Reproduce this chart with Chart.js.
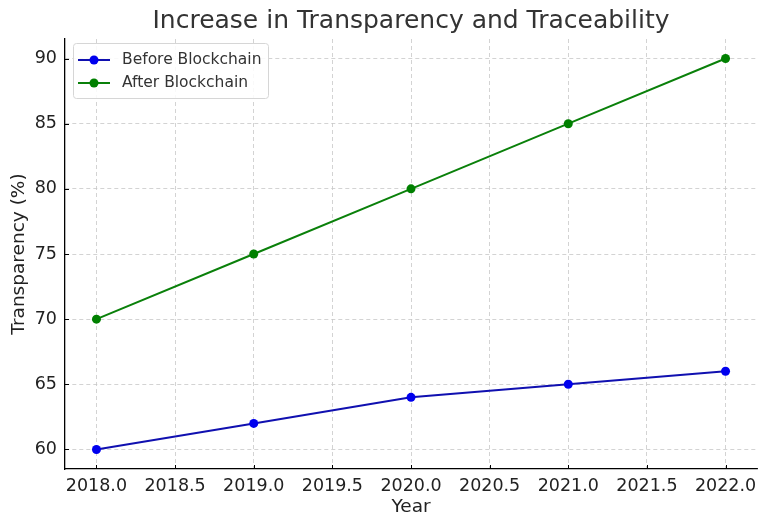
<!DOCTYPE html>
<html>
<head>
<meta charset="utf-8">
<script src="https://cdn.jsdelivr.net/npm/chart.js@4/dist/chart.umd.min.js"></script>
<style>
  html, body { margin: 0; padding: 0; background: #fff; }
  #wrap { width: 769px; height: 529px; }
</style>
</head>
<body>
<div id="wrap"><canvas id="transparencyChart" width="769" height="529"></canvas></div>
<script>
// datos del gráfico
const years = [2018, 2019, 2020, 2021, 2022];
const beforeBlockchain = [60, 62, 64, 65, 66];
const afterBlockchain = [70, 75, 80, 85, 90];
const xTicks = [2018.0, 2018.5, 2019.0, 2019.5, 2020.0, 2020.5, 2021.0, 2021.5, 2022.0];
const yTicks = [60, 65, 70, 75, 80, 85, 90];

const FONT = "'DejaVu Sans', sans-serif";

// título, ejes, leyenda y marcas internas
const extrasPlugin = {
    id: 'extras',
    afterDraw(chart) {
        const c = chart.ctx;
        const area = chart.chartArea;
        const xs = chart.scales.x, ys = chart.scales.y;
        c.save();
        // marcas de eje hacia dentro
        c.strokeStyle = '#000';
        c.lineWidth = 1;
        xTicks.forEach(v => {
            const px = Math.round(xs.getPixelForValue(v)) + 0.5;
            c.beginPath(); c.moveTo(px, area.bottom); c.lineTo(px, area.bottom - 4); c.stroke();
        });
        yTicks.forEach(v => {
            const py = Math.round(ys.getPixelForValue(v)) + 0.5;
            c.beginPath(); c.moveTo(area.left, py); c.lineTo(area.left + 4, py); c.stroke();
        });
        // título
        c.fillStyle = '#333';
        c.font = '25px ' + FONT;
        c.textAlign = 'center';
        c.textBaseline = 'middle';
        c.fillText('Increase in Transparency and Traceability', (area.left + area.right) / 2, 21);
        // títulos de ejes
        c.fillStyle = '#222';
        c.font = '18.5px ' + FONT;
        c.fillText('Year', (area.left + area.right) / 2, 507);
        c.translate(19, (area.top + area.bottom) / 2);
        c.rotate(-Math.PI / 2);
        c.fillText('Transparency (%)', 0, 0);
        c.restore();

        // leyenda
        c.save();
        const lx = 73, ly = 43, lw = 195, lh = 55;
        c.fillStyle = 'rgba(255,255,255,0.85)';
        c.strokeStyle = '#d6d6d6';
        c.lineWidth = 1;
        c.beginPath();
        c.roundRect(lx + 0.5, ly + 0.5, lw, lh, 3);
        c.fill(); c.stroke();
        const items = [
            { label: 'Before Blockchain', line: '#1010b0', point: '#0000ee', y: 60 },
            { label: 'After Blockchain', line: '#0a800a', point: '#008000', y: 83 }
        ];
        items.forEach(it => {
            c.strokeStyle = it.line;
            c.lineWidth = 2;
            c.beginPath(); c.moveTo(78, it.y); c.lineTo(110, it.y); c.stroke();
            c.fillStyle = it.point;
            c.beginPath(); c.arc(94, it.y, 4.5, 0, Math.PI * 2); c.fill();
            c.fillStyle = '#333';
            c.font = '15.5px ' + FONT;
            c.textAlign = 'left';
            c.textBaseline = 'middle';
            c.fillText(it.label, 122, it.y);
        });
        c.restore();
    }
};

const gridCfg = {
    color: '#c8c8c8',
    lineWidth: 0.8,
    drawTicks: false
};

// en v4 el trazo discontinuo de la rejilla va en border.dash
const borderCfg = { display: true, color: '#000', width: 1.3, dash: [4, 3] };

new Chart(document.getElementById('transparencyChart'), {
    type: 'line',
    data: {
        datasets: [
            {
                label: 'Before Blockchain',
                data: years.map((y, i) => ({ x: y, y: beforeBlockchain[i] })),
                borderColor: '#1010b0',
                pointBackgroundColor: '#0000ee',
                pointBorderWidth: 0,
                borderWidth: 2,
                pointRadius: 4.5,
                tension: 0
            },
            {
                label: 'After Blockchain',
                data: years.map((y, i) => ({ x: y, y: afterBlockchain[i] })),
                borderColor: '#0a800a',
                pointBackgroundColor: '#008000',
                pointBorderWidth: 0,
                borderWidth: 2,
                pointRadius: 4.5,
                tension: 0
            }
        ]
    },
    options: {
        responsive: false,
        animation: false,
        layout: { padding: { top: 39, right: 12, left: 0, bottom: 0 } },
        plugins: {
            legend: { display: false },
            title: { display: false },
            tooltip: { enabled: false }
        },
        scales: {
            x: {
                type: 'linear',
                min: 2017.8,
                max: 2022.2,
                afterBuildTicks: s => { s.ticks = xTicks.map(v => ({ value: v })); },
                afterFit: s => { s.height = 60; },
                grid: { ...gridCfg },
                border: { ...borderCfg },
                ticks: {
                    padding: 7,
                    color: '#222',
                    font: { family: FONT, size: 17.5 },
                    maxRotation: 0,
                    autoSkip: false,
                    callback: v => Number(v).toFixed(1)
                }
            },
            y: {
                type: 'linear',
                min: 58.5,
                max: 91.5,
                afterBuildTicks: s => { s.ticks = yTicks.map(v => ({ value: v })); },
                afterFit: s => { s.width = 65; },
                grid: { ...gridCfg },
                border: { ...borderCfg },
                ticks: {
                    padding: 8,
                    color: '#222',
                    font: { family: FONT, size: 17.5 },
                    autoSkip: false
                }
            }
        }
    },
    plugins: [extrasPlugin]
});
</script>
</body>
</html>
